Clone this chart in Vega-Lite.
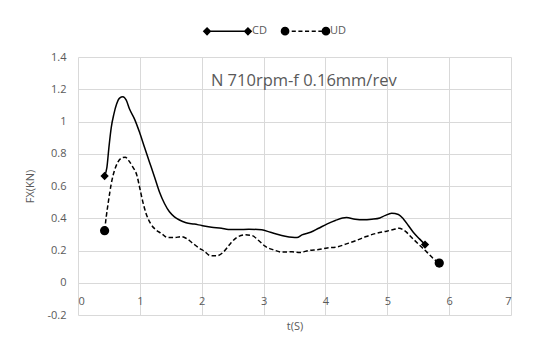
{
  "$schema": "https://vega.github.io/schema/vega-lite/v6.json",
  "autosize": {"type": "none"},
  "width": 433,
  "height": 258,
  "padding": {"left": 78, "top": 57, "right": 29, "bottom": 30},
  "background": "white",
  "config": {
    "view": {"stroke": null},
    "font": "Open Sans",
    "axis": {
      "labelFont": "Open Sans",
      "titleFont": "Open Sans",
      "labelColor": "#595959",
      "titleColor": "#595959",
      "labelFontSize": 11,
      "titleFontSize": 11,
      "titleFontWeight": "normal",
      "gridColor": "#D9D9D9",
      "gridWidth": 1,
      "gridOpacity": 1,
      "tickSize": 0,
      "domain": false
    }
  },
  "datasets": {
    "curves": [
      {"series": "CD", "t": 0.43, "v": 0.662},
      {"series": "CD", "t": 0.468, "v": 0.717},
      {"series": "CD", "t": 0.5, "v": 0.84},
      {"series": "CD", "t": 0.538, "v": 0.964},
      {"series": "CD", "t": 0.58, "v": 1.046},
      {"series": "CD", "t": 0.624, "v": 1.108},
      {"series": "CD", "t": 0.672, "v": 1.145},
      {"series": "CD", "t": 0.726, "v": 1.153},
      {"series": "CD", "t": 0.78, "v": 1.132},
      {"series": "CD", "t": 0.833, "v": 1.077},
      {"series": "CD", "t": 0.914, "v": 1.015},
      {"series": "CD", "t": 0.995, "v": 0.933},
      {"series": "CD", "t": 1.075, "v": 0.84},
      {"series": "CD", "t": 1.156, "v": 0.748},
      {"series": "CD", "t": 1.237, "v": 0.656},
      {"series": "CD", "t": 1.317, "v": 0.563},
      {"series": "CD", "t": 1.4, "v": 0.49},
      {"series": "CD", "t": 1.478, "v": 0.44},
      {"series": "CD", "t": 1.559, "v": 0.409},
      {"series": "CD", "t": 1.64, "v": 0.389},
      {"series": "CD", "t": 1.747, "v": 0.372},
      {"series": "CD", "t": 1.88, "v": 0.364},
      {"series": "CD", "t": 2.0, "v": 0.355},
      {"series": "CD", "t": 2.16, "v": 0.344},
      {"series": "CD", "t": 2.32, "v": 0.338},
      {"series": "CD", "t": 2.43, "v": 0.33},
      {"series": "CD", "t": 2.59, "v": 0.33},
      {"series": "CD", "t": 2.76, "v": 0.332},
      {"series": "CD", "t": 2.97, "v": 0.328},
      {"series": "CD", "t": 3.11, "v": 0.313},
      {"series": "CD", "t": 3.22, "v": 0.301},
      {"series": "CD", "t": 3.35, "v": 0.289},
      {"series": "CD", "t": 3.46, "v": 0.282},
      {"series": "CD", "t": 3.54, "v": 0.28},
      {"series": "CD", "t": 3.62, "v": 0.297},
      {"series": "CD", "t": 3.76, "v": 0.313},
      {"series": "CD", "t": 3.89, "v": 0.338},
      {"series": "CD", "t": 4.03, "v": 0.365},
      {"series": "CD", "t": 4.16, "v": 0.386},
      {"series": "CD", "t": 4.34, "v": 0.404},
      {"series": "CD", "t": 4.48, "v": 0.394},
      {"series": "CD", "t": 4.61, "v": 0.39},
      {"series": "CD", "t": 4.75, "v": 0.394},
      {"series": "CD", "t": 4.88, "v": 0.402},
      {"series": "CD", "t": 4.96, "v": 0.416},
      {"series": "CD", "t": 5.07, "v": 0.431},
      {"series": "CD", "t": 5.18, "v": 0.423},
      {"series": "CD", "t": 5.26, "v": 0.396},
      {"series": "CD", "t": 5.34, "v": 0.355},
      {"series": "CD", "t": 5.42, "v": 0.313},
      {"series": "CD", "t": 5.52, "v": 0.272},
      {"series": "CD", "t": 5.61, "v": 0.237},
      {"series": "UD", "t": 0.43, "v": 0.323},
      {"series": "UD", "t": 0.457, "v": 0.41},
      {"series": "UD", "t": 0.495, "v": 0.512},
      {"series": "UD", "t": 0.538, "v": 0.615},
      {"series": "UD", "t": 0.59, "v": 0.697},
      {"series": "UD", "t": 0.645, "v": 0.748},
      {"series": "UD", "t": 0.71, "v": 0.775},
      {"series": "UD", "t": 0.763, "v": 0.779},
      {"series": "UD", "t": 0.817, "v": 0.759},
      {"series": "UD", "t": 0.887, "v": 0.717},
      {"series": "UD", "t": 0.952, "v": 0.666},
      {"series": "UD", "t": 0.995, "v": 0.594},
      {"series": "UD", "t": 1.048, "v": 0.502},
      {"series": "UD", "t": 1.1, "v": 0.43},
      {"series": "UD", "t": 1.172, "v": 0.368},
      {"series": "UD", "t": 1.263, "v": 0.327},
      {"series": "UD", "t": 1.344, "v": 0.307},
      {"series": "UD", "t": 1.45, "v": 0.28},
      {"series": "UD", "t": 1.559, "v": 0.28},
      {"series": "UD", "t": 1.667, "v": 0.286},
      {"series": "UD", "t": 1.747, "v": 0.276},
      {"series": "UD", "t": 1.855, "v": 0.245},
      {"series": "UD", "t": 1.962, "v": 0.214},
      {"series": "UD", "t": 2.04, "v": 0.196},
      {"series": "UD", "t": 2.135, "v": 0.169},
      {"series": "UD", "t": 2.24, "v": 0.167},
      {"series": "UD", "t": 2.35, "v": 0.19},
      {"series": "UD", "t": 2.46, "v": 0.241},
      {"series": "UD", "t": 2.57, "v": 0.282},
      {"series": "UD", "t": 2.7, "v": 0.297},
      {"series": "UD", "t": 2.81, "v": 0.293},
      {"series": "UD", "t": 2.92, "v": 0.262},
      {"series": "UD", "t": 3.03, "v": 0.225},
      {"series": "UD", "t": 3.16, "v": 0.204},
      {"series": "UD", "t": 3.3, "v": 0.19},
      {"series": "UD", "t": 3.46, "v": 0.192},
      {"series": "UD", "t": 3.59, "v": 0.188},
      {"series": "UD", "t": 3.73, "v": 0.2},
      {"series": "UD", "t": 3.89, "v": 0.206},
      {"series": "UD", "t": 4.03, "v": 0.216},
      {"series": "UD", "t": 4.18, "v": 0.221},
      {"series": "UD", "t": 4.34, "v": 0.241},
      {"series": "UD", "t": 4.5, "v": 0.262},
      {"series": "UD", "t": 4.66, "v": 0.287},
      {"series": "UD", "t": 4.83, "v": 0.307},
      {"series": "UD", "t": 4.99, "v": 0.32},
      {"series": "UD", "t": 5.1, "v": 0.33},
      {"series": "UD", "t": 5.19, "v": 0.338},
      {"series": "UD", "t": 5.29, "v": 0.32},
      {"series": "UD", "t": 5.39, "v": 0.282},
      {"series": "UD", "t": 5.5, "v": 0.241},
      {"series": "UD", "t": 5.64, "v": 0.19},
      {"series": "UD", "t": 5.75, "v": 0.148},
      {"series": "UD", "t": 5.84, "v": 0.122}
    ],
    "note": [
      {"t": 3.65, "v": 1.25, "label": "N 710rpm-f 0.16mm/rev"}
    ]
  },
  "layer": [
    {
      "data": {"name": "curves"},
      "transform": [{"filter": "datum.series == 'CD'"}],
      "mark": {"type": "line", "interpolate": "monotone", "color": "black", "strokeWidth": 1.5},
      "encoding": {
        "x": {
          "field": "t", "type": "quantitative",
          "scale": {"domain": [0, 7], "nice": false, "zero": false},
          "axis": {
            "title": "t(S)",
            "values": [0, 1, 2, 3, 4, 5, 6, 7],
            "tickCount": 20,
            "labelExpr": "'' + datum.value",
            "labelOverlap": false,
            "offset": -32.3,
            "labelPadding": 12.5,
            "titleY": 44,
            "titleBaseline": "middle",
            "grid": true
          }
        },
        "y": {
          "field": "v", "type": "quantitative",
          "scale": {"domain": [-0.2, 1.4], "nice": false, "zero": false},
          "axis": {
            "title": "FX(KN)",
            "values": [-0.2, 0, 0.2, 0.4, 0.6, 0.8, 1, 1.2, 1.4],
            "tickCount": 20,
            "labelExpr": "'' + datum.value",
            "labelOverlap": false,
            "labelPadding": 12,
            "titleX": -48,
            "titleY": 129,
            "titleBaseline": "middle",
            "grid": true
          }
        }
      }
    },
    {
      "data": {"name": "curves"},
      "transform": [{"filter": "datum.series == 'UD'"}],
      "mark": {"type": "line", "interpolate": "monotone", "color": "black", "strokeWidth": 1.5, "strokeDash": [4.5, 2.5]},
      "encoding": {
        "x": {"field": "t", "type": "quantitative"},
        "y": {"field": "v", "type": "quantitative"}
      }
    },
    {
      "data": {"name": "curves"},
      "transform": [
        {"filter": "datum.series == 'UD'"},
        {"joinaggregate": [{"op": "min", "field": "t", "as": "tmin"}, {"op": "max", "field": "t", "as": "tmax"}]},
        {"filter": "datum.t == datum.tmin || datum.t == datum.tmax"}
      ],
      "mark": {"type": "point", "filled": true, "opacity": 1, "size": 85, "shape": "circle", "fill": "black"},
      "encoding": {
        "x": {"field": "t", "type": "quantitative"},
        "y": {"field": "v", "type": "quantitative"}
      }
    },
    {
      "data": {"name": "curves"},
      "transform": [
        {"filter": "datum.series == 'CD'"},
        {"joinaggregate": [{"op": "min", "field": "t", "as": "tmin"}, {"op": "max", "field": "t", "as": "tmax"}]},
        {"filter": "datum.t == datum.tmin || datum.t == datum.tmax"}
      ],
      "mark": {"type": "point", "filled": true, "opacity": 1, "size": 85, "shape": "M-0.9,0L0,-0.9L0.9,0L0,0.9Z"},
      "encoding": {
        "x": {"field": "t", "type": "quantitative"},
        "y": {"field": "v", "type": "quantitative"},
        "fill": {
          "field": "series", "type": "nominal",
          "scale": {"domain": ["CD", "UD"], "range": ["black", "black"]},
          "legend": {
            "title": null,
            "orient": "none",
            "direction": "horizontal",
            "legendX": 126,
            "legendY": -49.8,
            "symbolSize": 2025,
            "symbolType": {"expr": "datum.value === 'CD' ? 'M-0.909,0L0.909,0M-1.053,0L-0.909,-0.144L-0.765,0L-0.909,0.144ZM0.765,0L0.909,-0.144L1.053,0L0.909,0.144Z' : 'M-0.909,0L-0.727,0M-0.613,0L-0.431,0M-0.317,0L-0.135,0M-0.021,0L0.161,0M0.275,0L0.457,0M0.571,0L0.753,0M0.867,0L0.909,0M-0.749,0A0.16,0.16 0 1,1 -1.069,0A0.16,0.16 0 1,1 -0.749,0ZM1.069,0A0.16,0.16 0 1,1 0.749,0A0.16,0.16 0 1,1 1.069,0Z'"},
            "symbolStrokeColor": "black",
            "symbolStrokeWidth": 1.5,
            "symbolOpacity": 1,
            "labelOffset": 1,
            "columnPadding": 11,
            "labelFont": "Open Sans",
            "labelFontSize": 11,
            "labelColor": "#595959"
          }
        }
      }
    },
    {
      "data": {"name": "note"},
      "mark": {"type": "text", "font": "Open Sans", "fontSize": 16.5, "color": "#595959", "align": "center", "baseline": "middle"},
      "encoding": {
        "x": {"field": "t", "type": "quantitative"},
        "y": {"field": "v", "type": "quantitative"},
        "text": {"field": "label"}
      }
    }
  ]
}
